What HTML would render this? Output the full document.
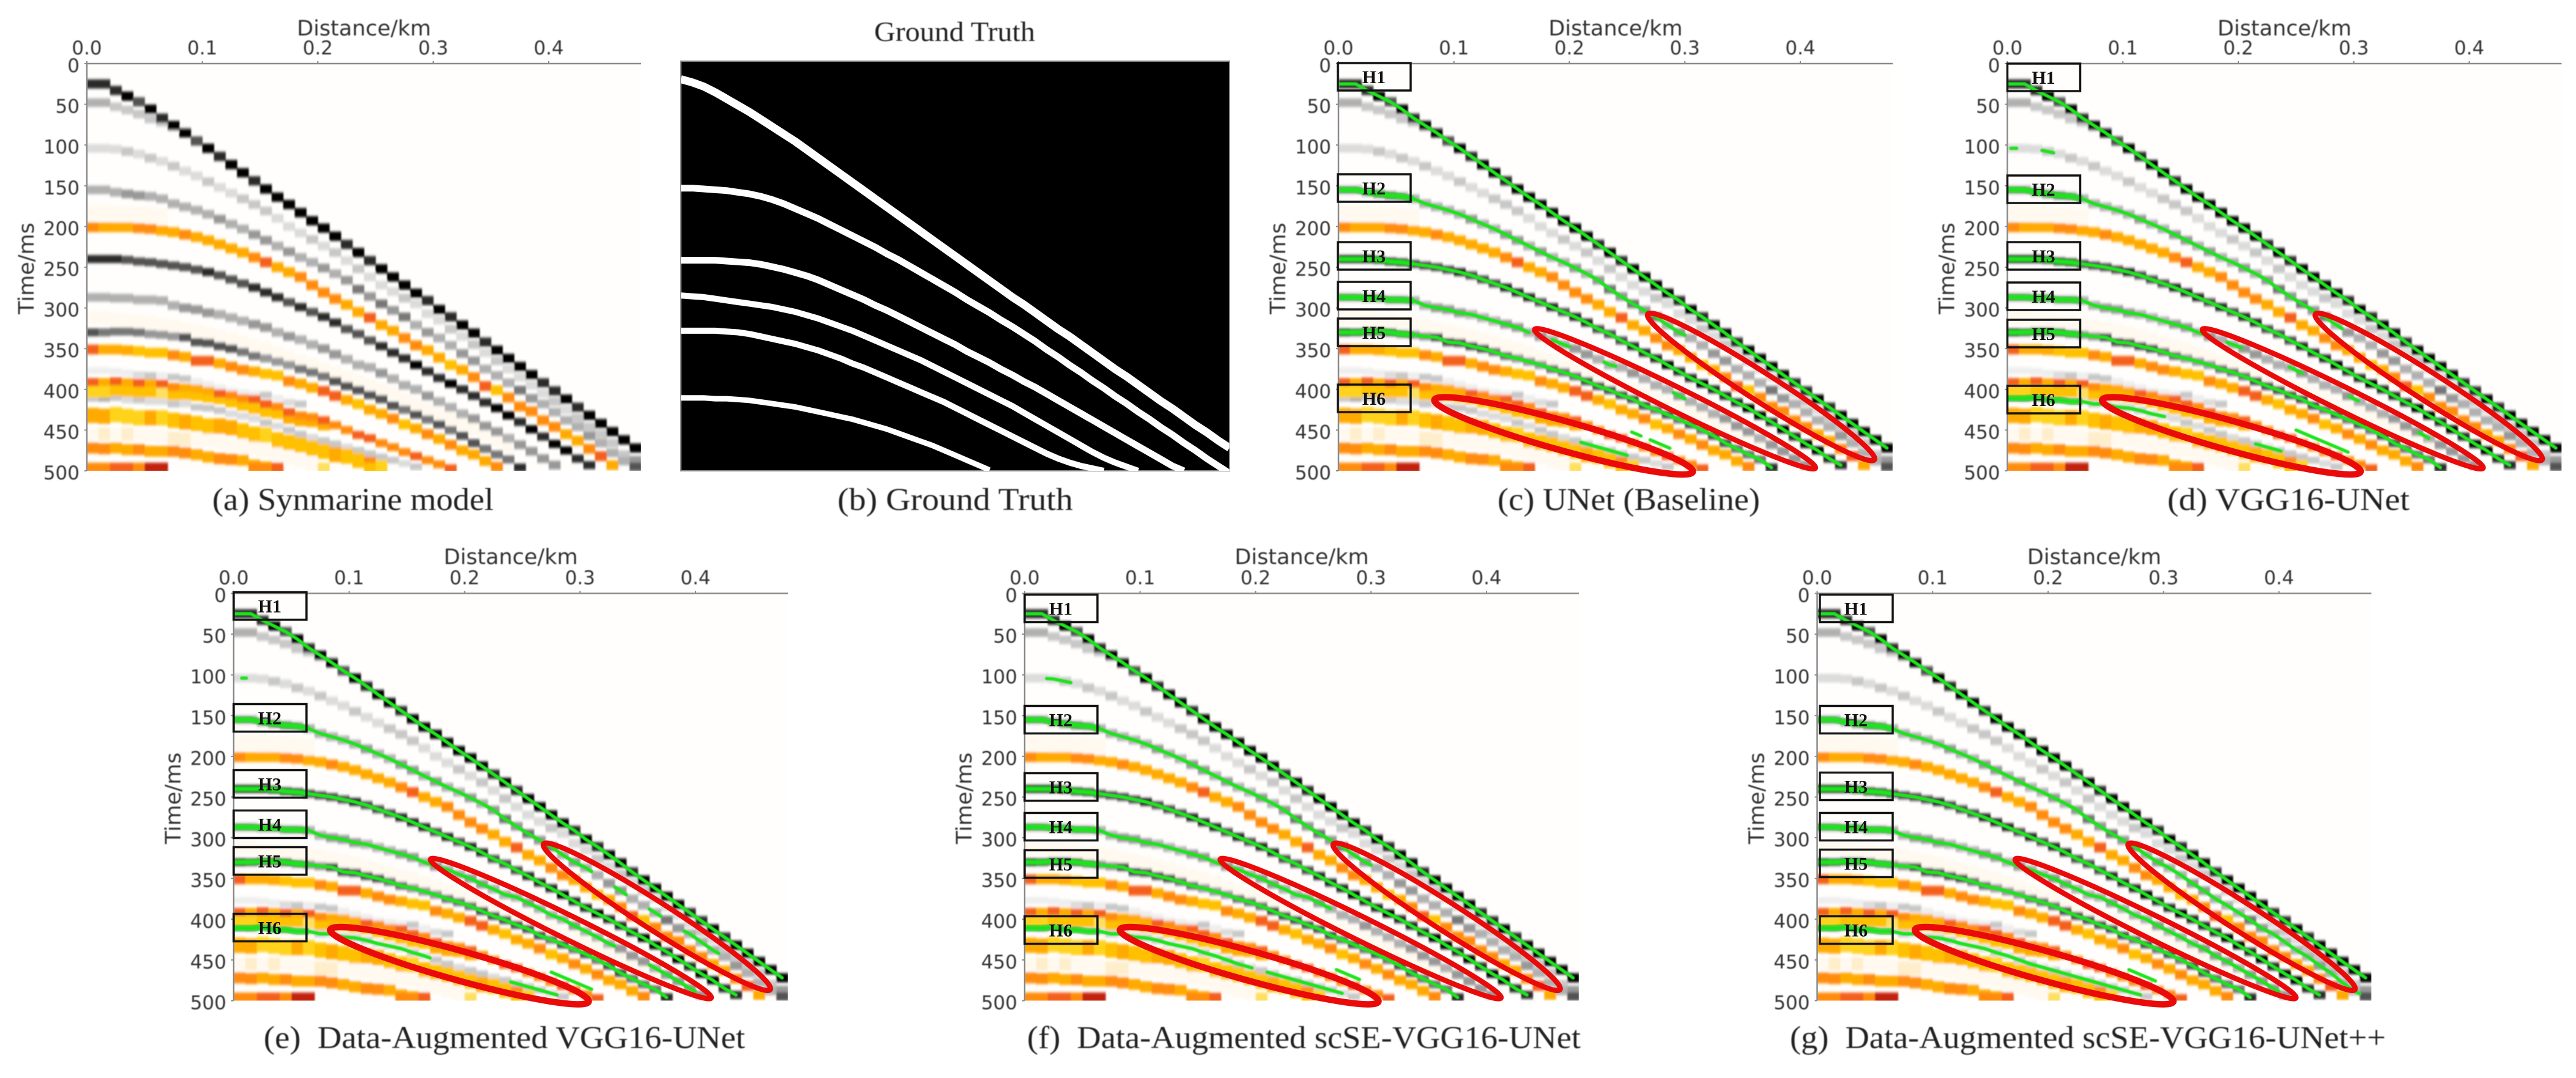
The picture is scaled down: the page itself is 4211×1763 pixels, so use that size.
<!DOCTYPE html>
<html lang="en">
<head>
<meta charset="utf-8">
<title>Seismic horizon picking comparison</title>
<style>
  html, body { margin: 0; padding: 0; background: #ffffff; }
  svg { display: block; }
  .tick { font-family: "DejaVu Sans", sans-serif; font-size: 31px; fill: #333333; }
  .axis-title { font-family: "DejaVu Sans", sans-serif; font-size: 35px; fill: #333333; }
  .caption { font-family: "Liberation Serif", serif; font-size: 52px; fill: #222222; white-space: pre; }
  .box-label { font-family: "Liberation Serif", serif; font-size: 30px; font-weight: bold; fill: #111111; }
</style>
</head>
<body>
<svg id="figure" xmlns="http://www.w3.org/2000/svg" width="4211" height="1763" viewBox="0 0 4211 1763">
  <defs>
    <filter id="cellBlur" x="-2%" y="-2%" width="104%" height="104%"><feGaussianBlur stdDeviation="1.3 2.4"/></filter>
    <filter id="soft" x="-2%" y="-10%" width="104%" height="120%"><feGaussianBlur stdDeviation="0.9"/></filter>
    <filter id="softLine" x="-2%" y="-2%" width="104%" height="104%"><feGaussianBlur stdDeviation="0.8"/></filter>
    <clipPath id="plotClip"><rect x="0" y="0" width="906" height="666"/></clipPath>
    <clipPath id="truthClip"><rect x="0" y="0" width="897" height="670"/></clipPath>
  </defs>
  <rect x="0" y="0" width="4211" height="1763" fill="#ffffff"/>

  <g id="panel-a" transform="translate(142,104)">
    <g filter="url(#soft)">
      <text class="axis-title" x="453" y="-46" text-anchor="middle">Distance/km</text>
      <text class="axis-title" transform="translate(-87,335) rotate(-90)" text-anchor="middle">Time/ms</text>
    </g>
  </g>

  <g id="panel-b" transform="translate(1113,100)">
    <rect x="0" y="0" width="897" height="670" fill="#000000" stroke="#888888" stroke-width="2"/>
    <g id="truth-lines" clip-path="url(#truthClip)"></g>
  </g>
  <text class="caption" filter="url(#soft)" x="1429" y="67" textLength="263" lengthAdjust="spacingAndGlyphs" style="font-size:45px">Ground Truth</text>

  <g id="panel-c" transform="translate(2188,104)">
    <g filter="url(#soft)">
      <text class="axis-title" x="453" y="-46" text-anchor="middle">Distance/km</text>
      <text class="axis-title" transform="translate(-87,335) rotate(-90)" text-anchor="middle">Time/ms</text>
    </g>
  </g>
  <g id="panel-d" transform="translate(3281.5,104)">
    <g filter="url(#soft)">
      <text class="axis-title" x="453" y="-46" text-anchor="middle">Distance/km</text>
      <text class="axis-title" transform="translate(-87,335) rotate(-90)" text-anchor="middle">Time/ms</text>
    </g>
  </g>
  <g id="panel-e" transform="translate(382,970.5)">
    <g filter="url(#soft)">
      <text class="axis-title" x="453" y="-48" text-anchor="middle">Distance/km</text>
      <text class="axis-title" transform="translate(-87,335) rotate(-90)" text-anchor="middle">Time/ms</text>
    </g>
  </g>
  <g id="panel-f" transform="translate(1675,970.5)">
    <g filter="url(#soft)">
      <text class="axis-title" x="453" y="-48" text-anchor="middle">Distance/km</text>
      <text class="axis-title" transform="translate(-87,335) rotate(-90)" text-anchor="middle">Time/ms</text>
    </g>
  </g>
  <g id="panel-g" transform="translate(2970.5,970.5)">
    <g filter="url(#soft)">
      <text class="axis-title" x="453" y="-48" text-anchor="middle">Distance/km</text>
      <text class="axis-title" transform="translate(-87,335) rotate(-90)" text-anchor="middle">Time/ms</text>
    </g>
  </g>

  <g filter="url(#soft)">
    <text class="caption" x="347" y="834" textLength="460" lengthAdjust="spacingAndGlyphs">(a) Synmarine model</text>
    <text class="caption" x="1369" y="834" textLength="385" lengthAdjust="spacingAndGlyphs">(b) Ground Truth</text>
    <text class="caption" x="2448" y="834" textLength="429" lengthAdjust="spacingAndGlyphs">(c) UNet (Baseline)</text>
    <text class="caption" x="3543" y="834" textLength="396" lengthAdjust="spacingAndGlyphs">(d) VGG16-UNet</text>
    <text class="caption" x="431" y="1714" textLength="787" lengthAdjust="spacingAndGlyphs">(e)  Data-Augmented VGG16-UNet</text>
    <text class="caption" x="1679" y="1714" textLength="905" lengthAdjust="spacingAndGlyphs">(f)  Data-Augmented scSE-VGG16-UNet</text>
    <text class="caption" x="2926" y="1714" textLength="974" lengthAdjust="spacingAndGlyphs">(g)  Data-Augmented scSE-VGG16-UNet++</text>
  </g>
</svg>

<script>
// ---------- axis data ----------
const xTickValues = [0, 0.1, 0.2, 0.3, 0.4];
const xTickLabels = ['0.0', '0.1', '0.2', '0.3', '0.4'];
const yTickValues = [0, 50, 100, 150, 200, 250, 300, 350, 400, 450, 500];

// ---------- seismic events: arrival time (ms) and amplitude (0-9) for each trace column ----------
const directTimes = [25,25,33,40,47,56,67,76,85,95,104,114,124,134,144,154,164,173,183,193,202,212,222,232,242,252,262,272,282,291,302,311,321,331,342,352,362,372,382,392,402,412,422,432,442,452,462,472];
const directAmps = [8,8,8,9,7,9,8,9,9,7,9,8,9,9,8,9,9,9,9,9,9,9,8,9,8,9,9,9,9,8,9,8,9,9,8,9,9,9,9,8,8,9,8,9,9,9,9,9];
const shallowTimes = [48,48,53,57,62,68,72,78,84];
const shallowAmps = [4,4,3,3,3,3,3,2,2];
const lightGrayTimes = [104,104,105,108,111,116,120,126,132,138,145,152,159,166,173,181,190,200,208,216,224,232,242,252,262,272,280,288,295,307,315,326,335,345,355,365,375,385,395,405,415,425,435,446,455,466,480,487];
const lightGrayAmps = [2,2,2,3,2,3,2,3,2,2,3,2,2,3,3,3,2,2,2,3,2,3,2,3,2,2,2,3,2,2,2,3,2,3,2,3,2,2,2,2,3,2,3,3,3,3,3,5];
const eventH2Times = [155,155,158,160,162,163,166,172,176,180,185,191,197,203,210,217,224,231,238,244,251,258,266,277,286,295,303,311,321,330,337,346,356,365,375,383,392,401,411,418,428,438,446,457,466,478,488,495];
const eventH2Amps = [4,4,4,5,5,4,4,4,4,4,4,5,4,4,5,5,4,5,4,4,5,4,5,6,5,6,5,6,4,5,4,4,5,5,4,4,4,6,5,4,4,4,4,5,4,4,4,7];
const cream180Times = [183,183,184,184,185,186,188];
const cream180Amps = [1,1,1,1,1,1,1];
const orange200Times = [201,201,201,201,202,203,205,207,210,213,217,222,227,232,238,244,250,256,262,272,281,289,296,305,312,321,328,337,346,352,361,370,376,385,396,401,410,421,427,438,446,455,463,473,482,493];
const orange200Amps = [7,6,6,6,7,7,6,6,7,6,6,6,6,6,7,8,6,6,7,7,7,7,6,6,8,6,6,7,7,6,6,5,6,7,8,5,7,7,7,7,7,6,6,7,8,6];
const eventH3Times = [240,240,240,241,243,244,246,248,250,253,256,260,265,270,275,281,287,293,299,305,311,318,326,332,340,347,355,362,370,378,386,393,400,408,416,423,432,440,449,458,467,475,485,493];
const eventH3Amps = [8,8,8,7,7,7,7,7,7,7,8,7,7,7,8,8,8,7,8,7,8,8,7,7,7,8,8,8,9,8,8,9,8,8,8,9,9,8,9,8,9,9,8,8];
const eventH4Times = [287,287,288,288,290,290,291,297,300,302,306,308,312,316,320,324,330,335,339,345,350,357,363,370,373,380,387,395,400,408,415,422,430,436,445,452,460,468,476,485,493];
const eventH4Amps = [4,4,4,4,4,4,4,4,5,5,5,4,4,4,5,5,4,5,4,4,5,5,4,4,4,5,4,4,4,5,4,4,4,5,5,5,4,5,5,5,5];
const cream315Times = [312,312,314,315,316,318,320,322,325,328,331,335,338,342,346,350,355,360,365,370,375,380,385,390,395,400,405,412,418,424,430,436,442,448,455,462,470];
const cream315Amps = [1,1,1,1,1,1,1,1,1,1,1,1,1,1,1,1,1,1,1,1,1,1,1,1,1,1,1,1,1,1,1,1,1,1,1,1,1];
const eventH5Times = [330,330,329,329,330,332,333,335,336,342,343,347,350,354,359,362,366,370,375,379,384,390,396,401,407,412,420,425,431,437,443,450,457,466,473,480,486,496];
const eventH5Amps = [7,6,6,6,6,5,5,5,7,7,7,7,7,6,6,5,5,5,6,6,6,7,7,7,7,7,7,6,7,6,7,6,7,7,6,6,6,8];
const orange350Times = [351,351,351,352,353,355,355,358,360,365,365,368,372,376,378,381,383,390,393,398,402,408,413,418,425,430,436,443,448,455,461,468,475,480,488,495];
const orange350Amps = [8,6,6,6,5,5,5,7,6,8,8,6,7,7,6,5,5,7,6,6,8,8,6,5,6,6,7,5,6,7,6,7,6,6,6,7];
const faint380Times = [377,377,378,380,382,383,383,385,387,390,394,398,402,404,406,407,411,416,418];
const faint380Amps = [1,1,1,1,2,3,1,3,3,1,1,1,1,1,1,3,1,2,3];
const yellow400Times = [402,402,400,401,402,402,403,405,405,406,408,410,414,418,422,426,428,434,437,438,442];
const yellow400Amps = [4,4,5,5,5,5,3,5,5,5,5,5,5,5,5,5,5,6,6,6,6];
const red390Times = [391,391,390,391,392,392,393,397,398,399,402,405,407,411,412,418,421,428,432,434,438,444,450,456,460,466,471,477,482,487,492,497];
const red390Amps = [8,6,8,6,8,6,8,7,6,6,6,8,7,7,8,8,7,8,7,7,8,7,7,8,8,7,7,7,8,7,7,8];
const eventH6Times = [411,411,410,413,413,415,415,418,418,422,423,426,430,433,436,441,445,450,455,459,463,467,471,475,479,483,487,491,495];
const eventH6Amps = [3,4,3,2,3,2,2,3,2,3,3,3,2,2,2,3,2,3,3,2,3,3,2,3,3,3,3,2,3];
const yellow435Times = [432,433,431,433,435,435,435,438,440,442,445,445,447,451,455,456,462,465,468,472,476,480,482,487,492,496];
const yellow435Amps = [6,6,4,4,4,6,4,5,6,5,5,6,6,5,5,4,5,5,5,5,5,6,5,5,7,4];
const pale455Times = [455,455,455,455,456,456,458,460,461,462,463,465,468,470,473,476,480,484,488,492];
const pale455Amps = [1,2,1,2,1,1,1,2,2,1,1,1,1,1,1,1,1,1,1,1];
const orange472Times = [472,473,472,474,474,476,476,476,478,480,483,485,486,487,493,495,497];
const orange472Amps = [7,7,6,6,7,6,6,7,7,6,6,7,7,6,6,5,5];
const bottomTimes = [496,496,496,496,496,496,496,496,496,496,496,496,496,496,496,496,496,496,496,496,496,496,496,496,496];
const bottomAmps = [7,7,8,8,7,9,9,0,0,0,0,0,0,0,7,7,8,0,0,0,3,0,0,0,5];

// ---------- ground-truth horizons: time (ms) at each column boundary ----------
const horizon1 = [22,26,31,38,46,54,62,71,80,89,98,108,118,128,138,148,158,168,178,188,198,208,218,228,238,248,258,268,278,288,297,307,317,327,336,346,356,366,376,385,395,405,415,424,434,444,453,463,472];
const horizon2 = [155,155,156,157,158,160,162,165,169,174,180,186,192,199,206,213,220,227,235,242,250,258,266,274,282,291,299,307,316,324,333,342,352,361,371,380,390,399,409,418,428,437,447,456,466,475,485,494,503];
const horizon3 = [243,243,243,243,244,245,246,248,251,254,258,262,267,273,279,285,291,298,304,311,318,325,332,339,346,354,361,368,376,383,391,398,406,414,422,430,438,446,454,462,470,478,486,494,500];
const horizon4 = [286,287,288,290,292,294,296,298,300,303,306,310,314,319,324,329,335,341,347,353,359,365,372,379,386,393,400,407,414,421,429,437,445,453,461,469,477,484,490,495,500];
const horizon5 = [329,329,329,329,330,331,333,336,339,342,345,349,353,358,363,369,374,380,386,392,398,404,410,416,423,430,437,444,451,458,465,472,479,485,490,494,497,500];
const horizon6 = [411,411,411,412,412,413,414,416,418,420,422,425,428,431,434,437,441,445,449,454,459,464,469,475,481,487,493,499];
const strayFirstColumn = 25;
const strayHorizon = [450,456,462,468,474,480,486];

// ---------- predicted (green) pieces per panel: curve, first column, last column ----------
const segmentsC = [['h1',0,47.5],['h2',0,30],['h3',0,44],['h4',0,16.5],['h4',18.5,20],['h4',23,24],['h4',29,30],['h5',0,37.5],['h6',21,25],['stray',25.4,26.2],['stray',27,28.7]];
const segmentsD = [['h1',0,47.5],['light',0.3,0.8],['light',3,4],['h2',0,29],['h3',0,44],['h4',0,17],['h4',19,20.3],['h4',24.4,25.5],['h4',29.6,30.4],['h4',35.6,36.5],['h5',0,37.5],['h6',0,13.6],['h6',21.5,23.7],['stray',25,29.5]];
const segmentsE = [['h1',0,47.5],['light',0.7,1.1],['h2',0,31],['h2',33,34],['h2',36,37],['h2',39,42],['h3',0,44],['h4',0,33],['h4',36,40],['h5',0,37.5],['h6',0,17],['h6',24,28],['stray',27.5,31]];
const segmentsF = [['h1',0,47.5],['light',1.9,4],['h2',0,30],['h3',0,44],['h4',0,26.5],['h5',0,37.5],['h6',0,19.7],['h6',21,27.5],['stray',27,29]];
const segmentsG = [['h1',0,47.5],['h2',0,47],['h3',0,44],['h4',0,40],['h5',0,37.5],['h6',0,28],['stray',27,29.3]];

// ---------- annotations ----------
const boxLabels = ['H1', 'H2', 'H3', 'H4', 'H5', 'H6'];
const boxTopsC = [-1,181,292,357,417,525];
const boxTopsD = [0,183,292,358,419,527];
const boxTopsE = [-2,181,289,355,415,524];
const boxTopsF = [2,184,294,359,420,528];
const boxTopsG = [2,184,293,359,419,528];
const ellipseStartKm = [0.266, 0.168, 0.081];
const ellipseStartMs = [306, 325, 412];
const ellipseEndKm = [0.466, 0.415, 0.309];
const ellipseEndMs = [488, 498, 502];

// ---------- scales ----------
const plotWidth = 906, plotHeight = 666, maxKm = 0.48, maxMs = 500;
function xScale(km) { return km / maxKm * plotWidth; }
function yScale(ms) { return ms / maxMs * plotHeight; }
function colScale(col) { return xScale(col * 0.01); }

const grayRamp = ['#ffffff','#eeeeee','#dcdcdc','#c8c8c8','#b0b0b0','#989898','#777777','#525252','#2c2c2c','#050505'];
const orangeRamp = ['#ffffff','#fff9f0','#ffeecb','#ffdf60','#ffd21a','#ffc000','#ffaa00','#ff8c10','#f4601a','#c22010'];
const SVG_NS = 'http://www.w3.org/2000/svg';

function mk(tag, parent) {
  const el = document.createElementNS(SVG_NS, tag);
  parent.appendChild(el);
  return el;
}

function drawEvent(group, times, amps, ramp, cellHeight) {
  const cellWidth = colScale(1);
  for (let i = 0; i < times.length; i++) {
    if (!amps[i]) continue;
    const r = mk('rect', group);
    r.setAttribute('x', colScale(i));
    r.setAttribute('y', yScale(times[i]) - cellHeight / 2);
    r.setAttribute('width', cellWidth + 0.5);
    r.setAttribute('height', cellHeight);
    r.setAttribute('fill', ramp[amps[i]]);
    
    
  }
}

function drawSeismic(panel) {
  const bg = mk('rect', panel);
  bg.setAttribute('x', 0);
  bg.setAttribute('y', 0);
  bg.setAttribute('width', plotWidth);
  bg.setAttribute('height', plotHeight);
  bg.setAttribute('fill', '#fffefc');
  
  
  const clip = mk('g', panel);
  clip.setAttribute('clip-path', 'url(#plotClip)');
  
  
  const g = mk('g', clip);
  g.setAttribute('filter', 'url(#cellBlur)');
  
  
  drawEvent(g, cream180Times, cream180Amps, orangeRamp, 26);
  drawEvent(g, cream315Times, cream315Amps, orangeRamp, 22);
  drawEvent(g, pale455Times, pale455Amps, orangeRamp, 22);
  drawEvent(g, shallowTimes, shallowAmps, grayRamp, 14);
  drawEvent(g, lightGrayTimes, lightGrayAmps, grayRamp, 14);
  drawEvent(g, eventH2Times, eventH2Amps, grayRamp, 14);
  drawEvent(g, orange200Times, orange200Amps, orangeRamp, 16);
  drawEvent(g, eventH3Times, eventH3Amps, grayRamp, 13);
  drawEvent(g, eventH4Times, eventH4Amps, grayRamp, 14);
  drawEvent(g, eventH5Times, eventH5Amps, grayRamp, 13);
  drawEvent(g, orange350Times, orange350Amps, orangeRamp, 16);
  drawEvent(g, faint380Times, faint380Amps, grayRamp, 11);
  drawEvent(g, eventH6Times, eventH6Amps, grayRamp, 11);
  drawEvent(g, yellow400Times, yellow400Amps, orangeRamp, 22);
  drawEvent(g, red390Times, red390Amps, orangeRamp, 13);
  drawEvent(g, yellow435Times, yellow435Amps, orangeRamp, 25);
  drawEvent(g, orange472Times, orange472Amps, orangeRamp, 18);
  drawEvent(g, bottomTimes, bottomAmps, orangeRamp, 16);
  drawEvent(g, directTimes, directAmps, grayRamp, 15);
}

function drawAxes(panel) {
  const axes = mk('g', panel);
  
  
  const top = mk('line', axes);
  top.setAttribute('x1', 0);
  top.setAttribute('y1', 0);
  top.setAttribute('x2', plotWidth);
  top.setAttribute('y2', 0);
  top.setAttribute('stroke', '#8a8a8a');
  top.setAttribute('stroke-width', 2.5);
  
  
  const left = mk('line', axes);
  left.setAttribute('x1', 0);
  left.setAttribute('y1', 0);
  left.setAttribute('x2', 0);
  left.setAttribute('y2', plotHeight);
  left.setAttribute('stroke', '#8a8a8a');
  left.setAttribute('stroke-width', 2.5);
  
  
  const labels = mk('g', axes);
  labels.setAttribute('filter', 'url(#soft)');
  
  
  xTickValues.forEach(function (v, i) {
    const tick = mk('line', axes);
    tick.setAttribute('x1', xScale(v));
    tick.setAttribute('x2', xScale(v));
    tick.setAttribute('y1', -4);
    tick.setAttribute('y2', 0);
    tick.setAttribute('stroke', '#8a8a8a');
    tick.setAttribute('stroke-width', 2);
    
    
    const t = mk('text', labels);
    t.setAttribute('class', 'tick');
    t.setAttribute('x', xScale(v));
    t.setAttribute('y', -15);
    t.setAttribute('text-anchor', 'middle');
    t.textContent = xTickLabels[i];
    
    
  });
  yTickValues.forEach(function (v) {
    const tick = mk('line', axes);
    tick.setAttribute('x1', -4);
    tick.setAttribute('x2', 0);
    tick.setAttribute('y1', yScale(v));
    tick.setAttribute('y2', yScale(v));
    tick.setAttribute('stroke', '#8a8a8a');
    tick.setAttribute('stroke-width', 2);
    
    
    const t = mk('text', labels);
    t.setAttribute('class', 'tick');
    t.setAttribute('x', -12);
    t.setAttribute('y', yScale(v) + 14);
    t.setAttribute('text-anchor', 'end');
    t.textContent = String(v);
    
    
  });
}

function truthCurve(name) {
  if (name === 'h1') return { first: 0, shift: 0, times: horizon1 };
  if (name === 'h2') return { first: 0, shift: 0, times: horizon2 };
  if (name === 'h3') return { first: 0, shift: 0, times: horizon3 };
  if (name === 'h4') return { first: 0, shift: 0, times: horizon4 };
  if (name === 'h5') return { first: 0, shift: 0, times: horizon5 };
  return { first: 0, shift: 0, times: horizon6 };
}

// Predicted horizons run through the centre of the seismic cells they track.
function predictedCurve(name) {
  if (name === 'h1') return { first: 0, shift: 0.5, times: directTimes };
  if (name === 'h2') return { first: 0, shift: 0.5, times: eventH2Times };
  if (name === 'h3') return { first: 0, shift: 0.5, times: eventH3Times };
  if (name === 'h4') return { first: 0, shift: 0.5, times: eventH4Times };
  if (name === 'h5') return { first: 0, shift: 0.5, times: eventH5Times };
  if (name === 'h6') return { first: 0, shift: 0.5, times: eventH6Times };
  if (name === 'light') return { first: 0, shift: 0.5, times: lightGrayTimes };
  return { first: strayFirstColumn, shift: 0, times: strayHorizon };
}

function pathFor(curve, from, to, sx, sy) {
  const lastIdx = curve.times.length - 1;
  const offset = curve.first + curve.shift;
  function at(idx) {
    const lo = Math.floor(idx);
    const hi = Math.min(lo + 1, lastIdx);
    return curve.times[lo] + (curve.times[hi] - curve.times[lo]) * (idx - lo);
  }
  const startIdx = Math.max(from - offset, 0);
  const endIdx = Math.min(to - offset, lastIdx);
  const pts = [];
  if (from < offset) pts.push([from, curve.times[0]]);
  pts.push([startIdx + offset, at(startIdx)]);
  for (let i = Math.ceil(startIdx); i <= endIdx; i++) {
    if (i > startIdx && i < endIdx) pts.push([i + offset, curve.times[i]]);
  }
  pts.push([endIdx + offset, at(endIdx)]);
  return 'M' + pts.map(function (p) { return (p[0] * sx).toFixed(1) + ' ' + (p[1] * sy).toFixed(1); }).join('L');
}

function drawGreen(panel, segments) {
  const g = mk('g', panel);
  g.setAttribute('clip-path', 'url(#plotClip)');
  
  
  const inner = mk('g', g);
  inner.setAttribute('filter', 'url(#softLine)');
  
  
  const sx = colScale(1), sy = yScale(1);
  segments.forEach(function (seg) {
    const curve = predictedCurve(seg[0]);
    if (seg[1] === 0 && seg[0] !== 'h1' && seg[0] !== 'light') {
      const wide = mk('path', inner);
      wide.setAttribute('d', pathFor(curve, 0, Math.min(6.5, seg[2]), sx, sy));
      wide.setAttribute('fill', 'none');
      wide.setAttribute('stroke', '#22cc22');
      wide.setAttribute('stroke-opacity', '0.7');
      wide.setAttribute('stroke-width', 11);
      
      
    }
    const p = mk('path', inner);
    p.setAttribute('d', pathFor(curve, seg[1], seg[2], sx, sy));
    p.setAttribute('fill', 'none');
    p.setAttribute('stroke', '#1de41d');
    p.setAttribute('stroke-width', 5.5);
    p.setAttribute('stroke-linecap', 'round');
    p.setAttribute('stroke-linejoin', 'round');
    
    
  });
}

function drawBoxes(panel, tops, offsetX) {
  const g = mk('g', panel);
  
  
  tops.forEach(function (top, i) {
    const r = mk('rect', g);
    r.setAttribute('x', offsetX);
    r.setAttribute('y', top);
    r.setAttribute('width', 119);
    r.setAttribute('height', 45);
    r.setAttribute('fill', 'none');
    r.setAttribute('stroke', '#141414');
    r.setAttribute('stroke-width', 3.5);
    
    
    const t = mk('text', g);
    t.setAttribute('class', 'box-label');
    t.setAttribute('x', offsetX + 59);
    t.setAttribute('y', top + 33);
    t.setAttribute('text-anchor', 'middle');
    t.textContent = boxLabels[i];
    
    
  });
}

function drawEllipses(panel, dx) {
  const g = mk('g', panel);
  
  
  const minor = [23, 19, 24];
  const weight = [8.5, 8.5, 10.5];
  ellipseStartKm.forEach(function (km, i) {
    const x1 = xScale(km) + dx, y1 = yScale(ellipseStartMs[i]);
    const x2 = xScale(ellipseEndKm[i]) + dx, y2 = yScale(ellipseEndMs[i]);
    const length = Math.hypot(x2 - x1, y2 - y1);
    const angle = Math.atan2(y2 - y1, x2 - x1) * 180 / Math.PI;
    const e = mk('ellipse', g);
    e.setAttribute('cx', (x1 + x2) / 2);
    e.setAttribute('cy', (y1 + y2) / 2);
    e.setAttribute('rx', length / 2 - 4);
    e.setAttribute('ry', minor[i]);
    e.setAttribute('transform', 'rotate(' + angle + ' ' + (x1 + x2) / 2 + ' ' + (y1 + y2) / 2 + ')');
    e.setAttribute('fill', 'none');
    e.setAttribute('stroke', '#ea0a0a');
    e.setAttribute('stroke-width', weight[i]);
    
    
  });
}

function drawTruth() {
  const g = document.getElementById('truth-lines');
  const sx = 897 / 48, sy = 670 / 500;
  const names = ['h1', 'h2', 'h3', 'h4', 'h5', 'h6'];
  const widths = [13, 11, 11, 10, 10, 9];
  names.forEach(function (name, i) {
    const curve = truthCurve(name);
    const p = mk('path', g);
    p.setAttribute('d', pathFor(curve, 0, curve.times.length - 1, sx, sy));
    p.setAttribute('fill', 'none');
    p.setAttribute('stroke', '#ffffff');
    p.setAttribute('stroke-width', widths[i]);
    p.setAttribute('stroke-linejoin', 'round');
    
    
  });
}

function buildPanel(id, segments, boxTops, boxOffset, ellipseOffset) {
  const panel = document.getElementById(id);
  const titles = panel.firstElementChild;
  drawSeismic(panel);
  if (segments) drawGreen(panel, segments);
  drawAxes(panel);
  if (boxTops) drawBoxes(panel, boxTops, boxOffset);
  if (boxTops) drawEllipses(panel, ellipseOffset);
  panel.appendChild(titles);
}

drawTruth();
buildPanel('panel-a', null, null, 0, 0);
buildPanel('panel-c', segmentsC, boxTopsC, -1, 0);
buildPanel('panel-d', segmentsD, boxTopsD, 0, -2);
buildPanel('panel-e', segmentsE, boxTopsE, 0, 1);
buildPanel('panel-f', segmentsF, boxTopsF, 0, -1);
buildPanel('panel-g', segmentsG, boxTopsG, 4.5, 3);
</script>
</body>
</html>
